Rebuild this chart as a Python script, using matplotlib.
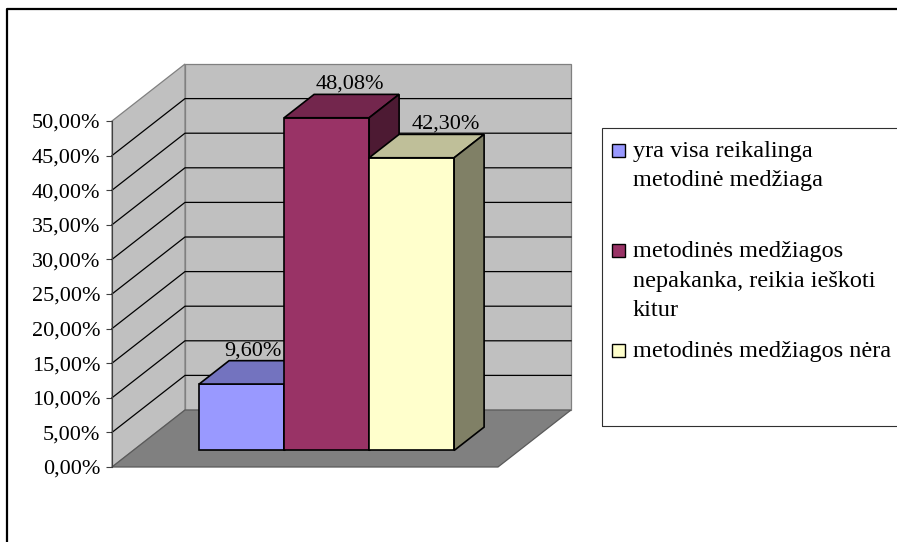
import numpy as np
import matplotlib.pyplot as plt
from matplotlib.patches import Polygon, Rectangle
from matplotlib.lines import Line2D

categories = [
    "yra visa reikalinga\nmetodinė medžiaga",
    "metodinės medžiagos\nnepakanka, reikia ieškoti\nkitur",
    "metodinės medžiagos nėra",
]
values = [9.60, 48.08, 42.30]
value_labels = ["9,60%", "48,08%", "42,30%"]
front_colors = ["#9999FF", "#993366", "#FFFFCC"]
y_ticks = np.arange(0, 55, 5)
y_tick_labels = [f"{t:.2f}%".replace(".", ",") for t in y_ticks]
y_max = 50

plt.rcParams['font.family'] = ['Liberation Serif', 'DejaVu Serif']

W_PX, H_PX = 897, 542
fig = plt.figure(figsize=(W_PX / 100, H_PX / 100), dpi=100)
ax = fig.add_axes([0, 0, 1, 1])

# pixel layout of the oblique box
ORIG_X, ORIG_Y = 112, 467      # front-left corner of the floor
PX_X, PX_Y = 85, 6.92          # px per bar width, px per percent
ax.set_xlim(-ORIG_X / PX_X, (W_PX - ORIG_X) / PX_X)
ax.set_ylim((ORIG_Y - H_PX) / PX_Y, ORIG_Y / PX_Y)

DX, DY = 73 / PX_X, 57 / PX_Y  # depth offset of the back wall
FLOOR_W = 386 / PX_X
GAP = 66 / PX_X
Z_FRONT, Z_BACK = 0.29, 0.70


def proj(x, y, z):
    return (x + z * DX, y + z * DY)


def shade(hex_color, k):
    rgb = np.array([int(hex_color[i:i + 2], 16) for i in (1, 3, 5)]) / 255
    return tuple(rgb * k)


wall = "#C0C0C0"
edge = "#808080"
ax.add_patch(Polygon([proj(0, 0, 1), proj(FLOOR_W, 0, 1), proj(FLOOR_W, y_max, 1), proj(0, y_max, 1)],
                     closed=True, fc=wall, ec=edge, lw=0.9, zorder=1))
ax.add_patch(Polygon([proj(0, 0, 0), proj(0, 0, 1), proj(0, y_max, 1), proj(0, y_max, 0)],
                     closed=True, fc=wall, ec=edge, lw=0.9, zorder=1))

# gridlines on side and back walls
for v in y_ticks[1:-1]:
    pts = [proj(0, v, 0), proj(0, v, 1), proj(FLOOR_W, v, 1)]
    ax.plot([p[0] for p in pts], [p[1] for p in pts], color="black", lw=0.9, zorder=2)

ax.add_patch(Polygon([proj(0, 0, 0), proj(FLOOR_W, 0, 0), proj(FLOOR_W, 0, 1), proj(0, 0, 1)],
                     closed=True, fc="#808080", ec="#5a5a5a", lw=0.9, zorder=3))

# bars: front, top and right side faces
label_shift = [-3, 6, 14]
for i, (v, c) in enumerate(zip(values, front_colors)):
    x0, x1 = GAP + i, GAP + i + 1
    z = 4 + i
    ax.add_patch(Polygon([proj(x0, 0, Z_FRONT), proj(x1, 0, Z_FRONT), proj(x1, v, Z_FRONT), proj(x0, v, Z_FRONT)],
                         closed=True, fc=c, ec="black", lw=1.2, zorder=z))
    ax.add_patch(Polygon([proj(x0, v, Z_FRONT), proj(x1, v, Z_FRONT), proj(x1, v, Z_BACK), proj(x0, v, Z_BACK)],
                         closed=True, fc=shade(c, 0.75), ec="black", lw=1.2, zorder=z))
    ax.add_patch(Polygon([proj(x1, 0, Z_FRONT), proj(x1, 0, Z_BACK), proj(x1, v, Z_BACK), proj(x1, v, Z_FRONT)],
                         closed=True, fc=shade(c, 0.5), ec="black", lw=1.2, zorder=z))
    lx, ly = proj(x0 + 0.5, v, (Z_FRONT + Z_BACK) / 2)
    ax.annotate(value_labels[i], (lx, ly), xytext=(label_shift[i], 15.5), textcoords="offset points",
                ha="center", va="center", fontsize=16, zorder=10)

# value axis along the front-left edge
for s in ("top", "right", "bottom"):
    ax.spines[s].set_visible(False)
ax.spines["left"].set_position(("data", 0))
ax.spines["left"].set_bounds(0, y_max)
ax.spines["left"].set_color("#404040")
ax.spines["left"].set_zorder(3.5)
ax.set_xticks([])
ax.set_yticks(y_ticks)
ax.set_yticklabels(y_tick_labels)
ax.tick_params(axis="y", direction="out", length=4.3, width=0.8, color="#404040", pad=4, labelsize=16)
ax.patch.set_visible(False)

# outer frame
fx, fy = 7 / W_PX, 1 - 9 / H_PX
fig.add_artist(Line2D([fx, fx, 1], [0, fy, fy], color="black", lw=1.6))

# legend
lg_x, lg_top, lg_bot = 602, 128, 426
fig.add_artist(Rectangle((lg_x / W_PX, 1 - lg_bot / H_PX), (W_PX + 5 - lg_x) / W_PX, (lg_bot - lg_top) / H_PX,
                         fill=False, ec="#303030", lw=0.8))
baselines = [157, 257, 357]
line_step = 29.5
for label, c, b in zip(categories, front_colors, baselines):
    fig.add_artist(Rectangle((612 / W_PX, 1 - b / H_PX), 13 / W_PX, 13 / H_PX,
                             fc=c, ec="black", lw=1.0))
    for k, line in enumerate(label.split("\n")):
        fig.text(633 / W_PX, 1 - (b + k * line_step) / H_PX, line, fontsize=17.5,
                 ha="left", va="baseline")

fig.savefig("out.png", dpi=100)
